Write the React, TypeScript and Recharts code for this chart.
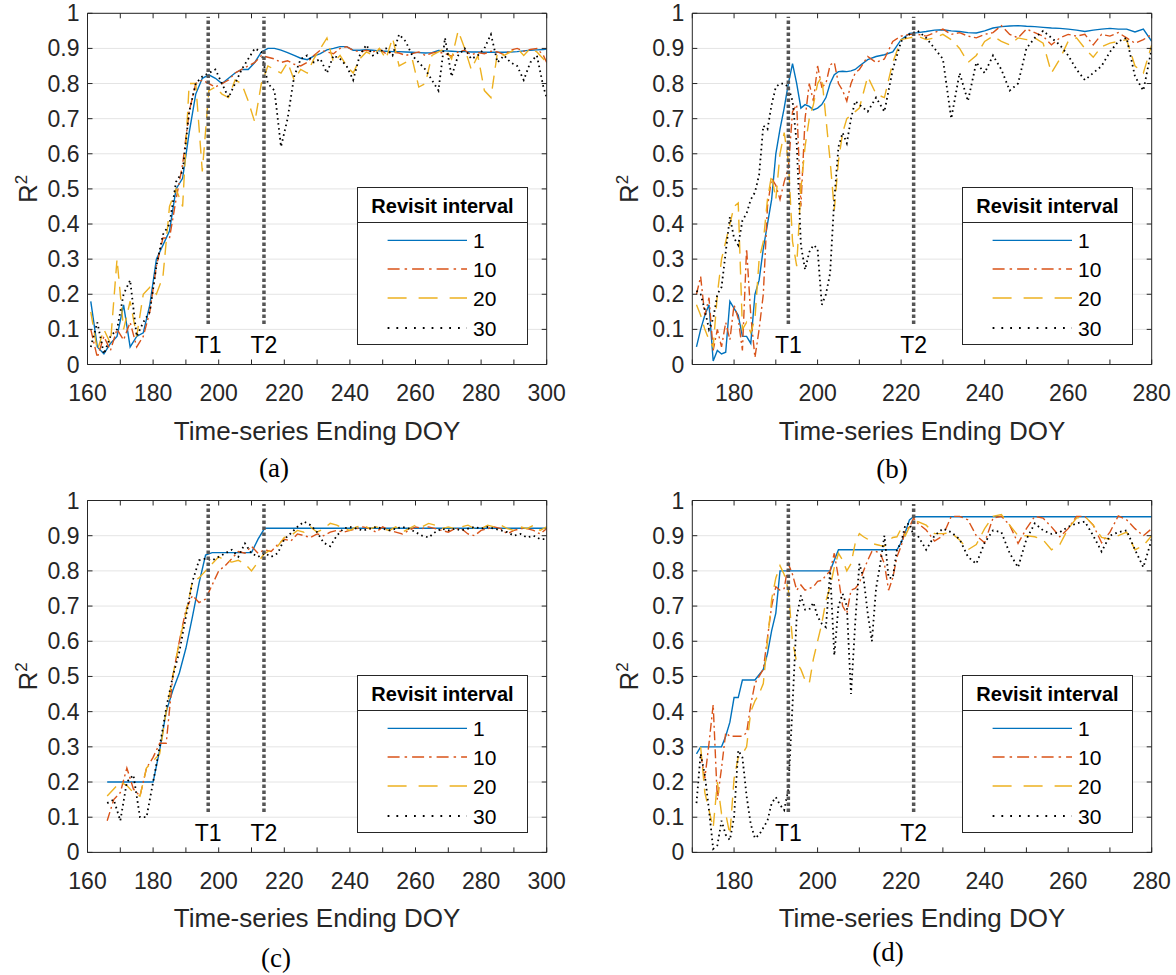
import React from 'react';
import { LineChart, Line, XAxis, YAxis, CartesianGrid, ReferenceLine, Legend } from 'recharts';

// ---------------- shared categories / labels ----------------
const SERIES_NAMES = ['1', '10', '20', '30'];
const SERIES_KEYS = ['r1', 'r10', 'r20', 'r30'];
const Y_TICKS = [0, 0.1, 0.2, 0.3, 0.4, 0.5, 0.6, 0.7, 0.8, 0.9, 1];
const AC_X_TICKS = [160, 170, 180, 190, 200, 210, 220, 230, 240, 250, 260, 270, 280, 290, 300];
const AC_X_LABELS = [160, 180, 200, 220, 240, 260, 280, 300];
const BD_X_TICKS = [170, 180, 190, 200, 210, 220, 230, 240, 250, 260, 270, 280];
const BD_X_LABELS = [180, 200, 220, 240, 260, 280];
const EVENT_NAMES = ['T1', 'T2'];
const AC_EVENTS = [196.8, 213.8];
const BD_EVENTS = [193, 223];
const EVENT_Y = [0.115, 0.99];

// ---------------- panel (a) ----------------
const A_DOY = [161,163,165,167,169,171,173,175,177,179,181,183,185,187,189,191,193,195,197,199,201,203,205,207,209,211,213,215,217,219,221,223,225,227,229,231,233,235,237,239,241,243,245,247,249,251,253,255,257,259,261,263,265,267,269,271,273,275,277,279,281,283,285,287,289,291,293,295,297,299,300];
const A_R1 = [
0.18,0.05,0.03,0.06,0.08,0.17,0.05,0.08,0.09,0.17,
0.30,0.34,0.38,0.50,0.53,0.66,0.77,0.815,0.825,0.815,
0.80,0.815,0.83,0.84,0.84,0.86,0.89,0.90,0.90,0.895,
0.888,0.88,0.872,0.868,0.878,0.885,0.896,0.90,0.905,0.905,
0.895,0.895,0.896,0.895,0.893,0.892,0.891,0.891,0.89,0.889,
0.888,0.887,0.888,0.894,0.893,0.892,0.891,0.891,0.89,0.89,
0.889,0.889,0.889,0.889,0.89,0.891,0.893,0.895,0.896,0.897,
0.898];
const A_R10 = [
0.1,0.02,0.08,0.04,0.1,0.07,0.12,0.05,0.08,0.15,
0.28,0.36,0.36,0.47,0.57,0.72,0.8,0.81,0.80,0.79,
0.80,0.81,0.83,0.84,0.85,0.86,0.88,0.875,0.87,0.86,
0.865,0.855,0.85,0.86,0.88,0.895,0.89,0.885,0.9,0.905,
0.895,0.89,0.895,0.89,0.898,0.885,0.89,0.887,0.88,0.885,
0.89,0.88,0.887,0.89,0.885,0.878,0.89,0.895,0.882,0.888,
0.885,0.892,0.89,0.882,0.895,0.9,0.892,0.897,0.9,0.88,
0.86];
const A_R20 = [
0.15,0.04,0.1,0.06,0.3,0.1,0.18,0.08,0.2,0.22,
0.2,0.25,0.45,0.5,0.45,0.8,0.8,0.55,0.78,0.79,
0.77,0.76,0.81,0.8,0.75,0.69,0.8,0.85,0.84,0.83,
0.86,0.81,0.84,0.83,0.87,0.9,0.93,0.86,0.88,0.85,
0.83,0.87,0.89,0.88,0.9,0.87,0.93,0.85,0.86,0.87,
0.79,0.8,0.88,0.89,0.9,0.87,0.95,0.9,0.84,0.88,
0.78,0.76,0.89,0.88,0.89,0.9,0.88,0.9,0.89,0.87,
0.86];
const A_R30 = [
0.05,0.12,0.03,0.08,0.1,0.2,0.24,0.08,0.12,0.15,
0.28,0.37,0.4,0.52,0.55,0.72,0.8,0.82,0.83,0.84,
0.8,0.76,0.8,0.84,0.87,0.9,0.89,0.8,0.78,0.62,
0.7,0.82,0.87,0.88,0.86,0.87,0.83,0.88,0.87,0.85,
0.81,0.88,0.91,0.88,0.89,0.9,0.88,0.94,0.92,0.88,
0.86,0.84,0.81,0.78,0.93,0.82,0.88,0.9,0.87,0.88,
0.9,0.94,0.86,0.88,0.86,0.85,0.81,0.86,0.88,0.79,
0.76];

// ---------------- panel (b) ----------------
const B_DOY = [171,172,173,174,175,176,177,178,179,180,181,182,183,184,185,186,187,188,189,190,191,192,193,194,195,196,197,198,199,200,201,202,203,204,205,206,207,208,209,210,212,214,216,218,220,222,224,226,228,230,232,234,236,238,240,242,244,246,248,250,252,254,256,258,260,262,264,266,268,270,272,274,276,278,280];
const B_R1 = [
0.05,0.10,0.14,0.17,0.01,0.04,0.03,0.035,0.18,0.16,
0.14,0.08,0.08,0.06,0.2,0.24,0.33,0.4,0.47,0.6,
0.67,0.73,0.8,0.857,0.8,0.73,0.74,0.735,0.725,0.73,
0.74,0.76,0.8,0.825,0.834,0.835,0.834,0.836,0.84,0.85,
0.868,0.877,0.882,0.89,0.925,0.943,0.945,0.948,0.952,0.953,
0.95,0.948,0.945,0.944,0.95,0.958,0.962,0.964,0.965,0.963,
0.962,0.96,0.958,0.957,0.955,0.952,0.948,0.952,0.955,0.957,
0.955,0.955,0.947,0.955,0.92];
const B_R10 = [
0.2,0.25,0.14,0.19,0.04,0.1,0.05,0.12,0.07,0.17,
0.13,0.04,0.33,0.14,0.02,0.1,0.2,0.45,0.53,0.51,
0.47,0.52,0.56,0.72,0.74,0.45,0.7,0.8,0.75,0.85,
0.79,0.8,0.853,0.86,0.8,0.78,0.75,0.8,0.83,0.84,
0.877,0.86,0.87,0.92,0.935,0.94,0.94,0.935,0.945,0.955,
0.94,0.945,0.935,0.93,0.94,0.945,0.965,0.94,0.93,0.955,
0.945,0.935,0.91,0.93,0.94,0.935,0.94,0.91,0.94,0.935,
0.945,0.93,0.915,0.925,0.94];
const B_R20 = [
0.17,0.14,0.1,0.07,0.05,0.2,0.3,0.35,0.4,0.45,
0.46,0.1,0.12,0.09,0.13,0.3,0.35,0.47,0.54,0.47,
0.6,0.66,0.58,0.35,0.28,0.5,0.62,0.7,0.74,0.8,
0.82,0.7,0.58,0.44,0.58,0.66,0.7,0.71,0.72,0.73,
0.82,0.77,0.76,0.86,0.925,0.93,0.935,0.925,0.93,0.94,
0.925,0.9,0.86,0.88,0.92,0.935,0.92,0.91,0.93,0.925,
0.93,0.915,0.83,0.87,0.92,0.93,0.9,0.875,0.905,0.915,
0.92,0.925,0.85,0.83,0.91];
const B_R30 = [
0.21,0.2,0.155,0.1,0.13,0.2,0.22,0.32,0.42,0.36,
0.34,0.41,0.43,0.47,0.49,0.54,0.68,0.67,0.74,0.79,
0.8,0.8,0.79,0.75,0.63,0.34,0.27,0.32,0.34,0.33,
0.17,0.2,0.26,0.47,0.62,0.66,0.63,0.7,0.75,0.74,
0.72,0.76,0.72,0.84,0.92,0.94,0.95,0.93,0.9,0.87,
0.7,0.83,0.75,0.86,0.83,0.88,0.84,0.78,0.8,0.9,
0.93,0.95,0.93,0.91,0.88,0.84,0.81,0.83,0.85,0.89,
0.92,0.93,0.82,0.78,0.9];

// ---------------- panel (c) ----------------
const C_DOY = [166,168,170,172,174,176,178,180,182,184,186,188,190,192,194,196,198,200,202,204,206,208,210,212,214,216,218,220,222,224,226,228,230,232,234,236,238,240,242,244,246,248,250,252,254,256,258,260,262,264,266,268,270,272,274,276,278,280,282,284,286,288,290,292,294,296,298,300];
const C_R1 = [
0.2,0.2,0.2,0.2,0.2,0.2,0.2,0.2,0.29,0.40,
0.46,0.51,0.58,0.67,0.765,0.845,0.852,0.852,0.852,0.852,
0.852,0.852,0.852,0.89,0.921,0.921,0.921,0.921,0.921,0.921,
0.921,0.921,0.921,0.921,0.921,0.921,0.921,0.921,0.921,0.921,
0.921,0.921,0.921,0.921,0.921,0.921,0.921,0.921,0.921,0.921,
0.921,0.921,0.921,0.921,0.921,0.921,0.921,0.921,0.921,0.921,
0.921,0.921,0.921,0.921,0.921,0.921,0.921,0.921];
const C_R10 = [
0.09,0.15,0.17,0.24,0.18,0.16,0.24,0.27,0.31,0.31,
0.5,0.6,0.69,0.73,0.71,0.72,0.76,0.8,0.815,0.835,
0.855,0.85,0.87,0.85,0.86,0.855,0.875,0.89,0.885,0.905,
0.9,0.895,0.905,0.9,0.91,0.915,0.91,0.915,0.92,0.925,
0.92,0.91,0.925,0.915,0.91,0.905,0.915,0.925,0.92,0.925,
0.92,0.915,0.91,0.92,0.92,0.905,0.9,0.915,0.92,0.925,
0.92,0.905,0.915,0.92,0.92,0.915,0.905,0.92];
const C_R20 = [
0.16,0.18,0.2,0.19,0.17,0.16,0.24,0.26,0.28,0.4,
0.5,0.6,0.68,0.77,0.78,0.8,0.82,0.84,0.83,0.825,
0.83,0.82,0.8,0.825,0.85,0.86,0.87,0.895,0.9,0.915,
0.91,0.925,0.91,0.92,0.935,0.93,0.92,0.915,0.925,0.93,
0.92,0.925,0.92,0.915,0.925,0.91,0.92,0.93,0.925,0.935,
0.93,0.92,0.925,0.92,0.925,0.93,0.92,0.92,0.93,0.925,
0.93,0.92,0.915,0.925,0.92,0.93,0.915,0.925];
const C_R30 = [
0.14,0.15,0.09,0.2,0.22,0.1,0.1,0.2,0.3,0.41,
0.5,0.57,0.67,0.77,0.83,0.835,0.83,0.84,0.85,0.86,
0.84,0.878,0.85,0.84,0.85,0.84,0.85,0.89,0.907,0.925,
0.94,0.93,0.91,0.88,0.87,0.9,0.92,0.925,0.92,0.915,
0.92,0.925,0.92,0.915,0.92,0.925,0.92,0.91,0.9,0.895,
0.91,0.92,0.915,0.92,0.915,0.92,0.925,0.92,0.925,0.92,
0.915,0.91,0.9,0.905,0.895,0.9,0.89,0.89];

// ---------------- panel (d) ----------------
const D_DOY = [171,172,173,174,175,176,177,178,179,180,181,182,183,184,185,186,187,188,189,190,191,192,193,194,195,196,197,198,199,200,201,202,203,204,205,206,207,208,209,210,211,212,213,214,215,216,217,218,219,220,221,222,223,224,226,228,230,232,234,236,238,240,242,244,246,248,250,252,254,256,258,260,262,264,266,268,270,272,274,276,278,280];
const D_R1 = [
0.28,0.3,0.3,0.3,0.3,0.3,0.3,0.33,0.37,0.44,
0.44,0.49,0.49,0.49,0.49,0.505,0.52,0.565,0.63,0.68,
0.8,0.8,0.8,0.8,0.8,0.8,0.8,0.8,0.8,0.8,
0.8,0.8,0.8,0.83,0.86,0.86,0.86,0.86,0.86,0.86,
0.86,0.86,0.86,0.86,0.86,0.86,0.86,0.86,0.86,0.88,
0.91,0.945,0.954,0.954,
0.954,0.954,0.954,0.954,0.954,0.954,0.954,0.954,0.954,0.954,
0.954,0.954,0.954,0.954,0.954,0.954,0.954,0.954,0.954,0.954,
0.954,0.954,0.954,0.954,0.954,0.954,0.954,0.954];
const D_R10 = [
null,0.28,0.21,0.31,0.42,0.15,0.24,0.34,0.33,0.33,
0.33,0.33,0.34,0.42,0.48,0.5,0.52,0.61,0.7,0.755,
0.745,0.75,0.82,0.79,0.745,0.76,0.745,0.75,0.755,0.77,
0.773,0.787,0.8,0.85,0.78,0.7,0.68,0.745,0.75,0.765,
0.8,0.83,0.855,0.855,0.85,0.82,0.745,0.78,0.84,0.87,
0.916,0.925,0.95,0.935,
0.916,0.885,0.9,0.955,0.955,0.945,0.9,0.88,0.95,0.955,
0.93,0.878,0.92,0.955,0.95,0.925,0.897,0.92,0.955,0.955,
0.93,0.88,0.91,0.956,0.945,0.92,0.9,0.92];
const D_R20 = [
null,0.3,0.17,0.12,0.07,0.2,0.11,0.11,0.05,0.21,
0.27,0.28,0.3,0.4,0.43,0.45,0.48,0.6,0.72,0.78,
0.815,0.79,0.745,0.6,0.54,0.52,0.49,0.48,0.55,0.6,
0.65,0.715,0.755,0.81,0.85,0.83,0.8,0.82,0.878,0.906,
0.897,0.89,0.878,0.875,0.872,0.87,0.885,0.895,0.897,0.92,
0.9,0.925,0.93,0.94,
0.93,0.906,0.906,0.908,0.888,0.86,0.875,0.92,0.955,0.96,
0.93,0.9,0.9,0.897,0.888,0.86,0.875,0.92,0.95,0.955,
0.93,0.895,0.89,0.9,0.91,0.86,0.872,0.9];
const D_R30 = [
0.14,0.28,0.22,0.12,0.01,0.02,0.09,0.05,0.035,0.1,
0.29,0.27,0.16,0.08,0.04,0.05,0.07,0.09,0.14,0.157,
0.135,0.12,0.18,0.42,0.67,0.73,0.69,0.69,0.71,0.67,
0.65,0.64,0.8,0.56,0.7,0.735,0.7,0.45,0.65,0.82,
0.78,0.68,0.6,0.75,0.82,0.9,0.78,0.78,0.86,0.88,
0.93,0.935,0.9,0.9,
0.86,0.9,0.92,0.91,0.89,0.84,0.82,0.88,0.915,0.91,
0.85,0.81,0.89,0.935,0.915,0.905,0.91,0.925,0.935,0.94,
0.9,0.855,0.9,0.91,0.915,0.86,0.81,0.89];

// ---------------- styles ----------------
const AX = '#262626';
const FONT = '"Liberation Sans", Arial, Helvetica, sans-serif';
const SERIF = '"Liberation Serif", "Times New Roman", serif';
const COLORS = ['#0072BD', '#D95319', '#EDB120', '#000000'];
const WIDTHS = [1.4, 1.4, 1.4, 1.8];
const DASH = [undefined, '9 3.5 2 3.5', '13 8', '1.6 3.4'];
const LEGEND_DASH = [undefined, '12 5 2.5 5', '19 12', '1.8 7'];
const LEGEND_ROWS = [53.4, 82, 111, 141];

const W = 588;
const H = 487;

const PANELS = [
  { id: 'a', doy: A_DOY, s: [A_R1, A_R10, A_R20, A_R30], xTicks: AC_X_TICKS, xLabels: AC_X_LABELS, domain: [160, 300], events: AC_EVENTS,
    left: 0, top: 0, mt: 13.3, mb: 122.5, yw: 87.5, mr: 41.3, rx: 37, capX: 274, capY: 477 },
  { id: 'b', doy: B_DOY, s: [B_R1, B_R10, B_R20, B_R30], xTicks: BD_X_TICKS, xLabels: BD_X_LABELS, domain: [170, 280], events: BD_EVENTS,
    left: 588, top: 0, mt: 13.3, mb: 122.5, yw: 104.3, mr: 24.3, rx: 50, capX: 304, capY: 478 },
  { id: 'c', doy: C_DOY, s: [C_R1, C_R10, C_R20, C_R30], xTicks: AC_X_TICKS, xLabels: AC_X_LABELS, domain: [160, 300], events: AC_EVENTS,
    left: 0, top: 487, mt: 13.5, mb: 121.6, yw: 87.5, mr: 41.3, rx: 37, capX: 276, capY: 480 },
  { id: 'd', doy: D_DOY, s: [D_R1, D_R10, D_R20, D_R30], xTicks: BD_X_TICKS, xLabels: BD_X_LABELS, domain: [170, 280], events: BD_EVENTS,
    left: 588, top: 487, mt: 13.5, mb: 121.6, yw: 104.3, mr: 24.3, rx: 50, capX: 300, capY: 474 },
];

function fmtY(v: number) {
  return String(Math.round(v * 10) / 10);
}

function renderBottomTick(p: any, labels: number[]) {
  const { x, y, payload } = p;
  return (
    <g>
      <line x1={x} x2={x} y1={y} y2={y - 5} stroke={AX} strokeWidth={1} />
      {labels.includes(payload.value) ? (
        <text x={x} y={y + 36.5} textAnchor="middle" fontSize={23} fill={AX} fontFamily={FONT}>{payload.value}</text>
      ) : null}
    </g>
  );
}
function renderTopTick(p: any) {
  const { x, y } = p;
  return <line x1={x} x2={x} y1={y} y2={y + 5} stroke={AX} strokeWidth={1} />;
}
function renderLeftTick(p: any) {
  const { x, y, payload } = p;
  return (
    <g>
      <line x1={x} x2={x + 5} y1={y} y2={y} stroke={AX} strokeWidth={1} />
      <text x={x - 8} y={y + 8} textAnchor="end" fontSize={23} fill={AX} fontFamily={FONT}>{fmtY(payload.value)}</text>
    </g>
  );
}
function renderRightTick(p: any) {
  const { x, y } = p;
  return <line x1={x} x2={x - 5} y1={y} y2={y} stroke={AX} strokeWidth={1} />;
}

function LegendBox() {
  return (
    <svg width={171} height={158} style={{ display: 'block' }}>
      <rect x={0.5} y={0.5} width={170} height={157} fill="#ffffff" stroke={AX} strokeWidth={1} />
      <text x={85.5} y={26} textAnchor="middle" fontWeight="bold" fontSize={20} fontFamily={FONT} fill="#000">Revisit interval</text>
      <line x1={0.5} x2={170.5} y1={35.5} y2={35.5} stroke={AX} strokeWidth={1} />
      {SERIES_NAMES.map((n, i) => (
        <g key={n}>
          <line x1={30.6} x2={110} y1={LEGEND_ROWS[i]} y2={LEGEND_ROWS[i]} stroke={COLORS[i]} strokeWidth={WIDTHS[i]} strokeDasharray={LEGEND_DASH[i]} />
          <text x={116} y={LEGEND_ROWS[i] + 7.5} fontSize={21} fontFamily={FONT} fill="#000">{n}</text>
        </g>
      ))}
    </svg>
  );
}

function Panel({ cfg }: { cfg: any }) {
  const rows = cfg.doy.map((d: number, i: number) => ({
    doy: d, r1: cfg.s[0][i], r10: cfg.s[1][i], r20: cfg.s[2][i], r30: cfg.s[3][i],
  }));
  const plotL = cfg.yw;
  const plotR = W - cfg.mr;
  const plotT = cfg.mt;
  const plotB = H - cfg.mb;
  const cx = (plotL + plotR) / 2;
  const cy = (plotT + plotB) / 2;
  // 1px thin axis bands for the mirrored top/right axes and the bottom axis
  const margin = { top: cfg.mt - 1, right: cfg.mr - 1, bottom: cfg.mb - 1, left: 0 };
  return (
    <div style={{ position: 'absolute', left: cfg.left, top: cfg.top, width: W, height: H }}>
      <LineChart width={W} height={H} data={rows} margin={margin}>
        <CartesianGrid vertical={false} stroke="#e4e4e4" strokeWidth={1} />
        <XAxis dataKey="doy" type="number" domain={cfg.domain} ticks={cfg.xTicks} interval={0} allowDataOverflow
          height={1} tickSize={0} tickMargin={0} tickLine={false} axisLine={{ stroke: AX }}
          tick={(p: any) => renderBottomTick(p, cfg.xLabels)} />
        <XAxis xAxisId="top" orientation="top" dataKey="doy" type="number" domain={cfg.domain} ticks={cfg.xTicks} interval={0} allowDataOverflow
          height={1} tickSize={0} tickMargin={0} tickLine={false} axisLine={{ stroke: AX }} tick={renderTopTick} />
        <YAxis type="number" domain={[0, 1]} ticks={Y_TICKS} interval={0} allowDataOverflow width={cfg.yw}
          tickSize={0} tickMargin={0} tickLine={false} axisLine={{ stroke: AX }} tick={renderLeftTick} />
        <YAxis yAxisId="right" orientation="right" type="number" domain={[0, 1]} ticks={Y_TICKS} interval={0} allowDataOverflow width={1}
          tickSize={0} tickMargin={0} tickLine={false} axisLine={{ stroke: AX }} tick={renderRightTick} />
        {SERIES_KEYS.map((k, i) => (
          <Line key={k} dataKey={k} name={SERIES_NAMES[i]} type="linear" stroke={COLORS[i]} strokeWidth={WIDTHS[i]}
            strokeDasharray={DASH[i]} dot={false} activeDot={false} isAnimationActive={false} connectNulls={false} />
        ))}
        {cfg.events.map((t: number, i: number) => (
          <ReferenceLine key={EVENT_NAMES[i]} segment={[{ x: t, y: EVENT_Y[0] }, { x: t, y: EVENT_Y[1] }]}
            stroke="#555555" strokeWidth={3.5} strokeDasharray="3.5 2.5" ifOverflow="visible"
            label={{ value: EVENT_NAMES[i], position: 'bottom', offset: 13, fontSize: 23, fill: '#000', fontFamily: FONT }} />
        ))}
        <Legend layout="vertical" align="center" verticalAlign="middle"
          wrapperStyle={{ left: plotR - 190, top: plotT + 174, width: 171, height: 158, margin: 0, padding: 0 }}
          content={() => <LegendBox />} />
      </LineChart>
      <svg width={W} height={H} style={{ position: 'absolute', left: 0, top: 0, pointerEvents: 'none' }}>
        <text x={cx} y={plotB + 75} textAnchor="middle" fontSize={26} fill={AX} fontFamily={FONT}>Time-series Ending DOY</text>
        <text transform={`translate(${cfg.rx}, ${cy}) rotate(-90)`} textAnchor="middle" fontSize={26} fill={AX} fontFamily={FONT}>
          R<tspan fontSize={17} dy={-10}>2</tspan>
        </text>
        <text x={cfg.capX} y={cfg.capY} textAnchor="middle" fontSize={27} fill="#000" fontFamily={SERIF}>{`(${cfg.id})`}</text>
      </svg>
    </div>
  );
}

export default function App() {
  return (
    <div style={{ position: 'absolute', left: 0, top: 0, width: 1176, height: 975, background: '#ffffff', fontFamily: FONT, overflow: 'hidden' }}>
      {PANELS.map((cfg) => (
        <Panel key={cfg.id} cfg={cfg} />
      ))}
    </div>
  );
}
